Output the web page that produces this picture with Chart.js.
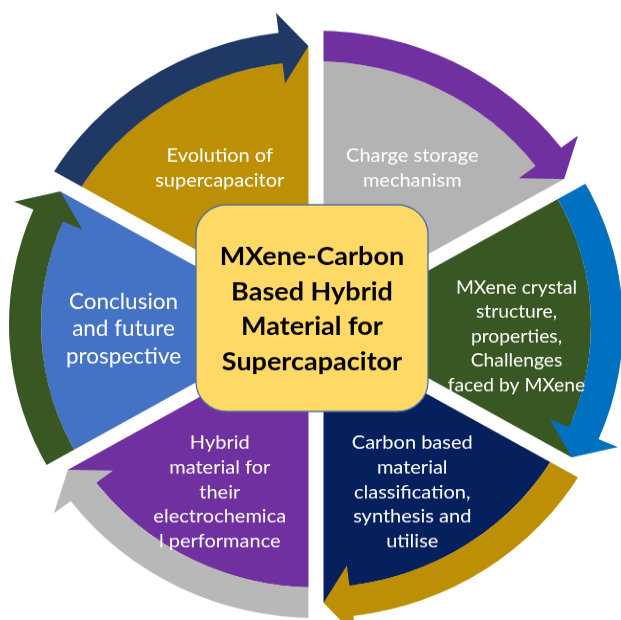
<!DOCTYPE html>
<html><head><meta charset="utf-8">
<script src="https://cdn.jsdelivr.net/npm/chart.js@4/dist/chart.umd.min.js"></script>
<style>
html,body{margin:0;padding:0;background:#fff;overflow:hidden;width:621px;height:620px}
#wrap{width:621px;height:648px;transform:scale(1,0.9568);transform-origin:0 0}
canvas{display:block}
</style></head><body>
<div id="wrap"><canvas id="c" width="621" height="648"></canvas></div>
<script>
// ---- data ----
const topics = ["Charge storage mechanism","MXene crystal structure, properties, Challenges faced by MXene","Carbon based material classification, synthesis and utilise","Hybrid material for their electrochemical performance","Conclusion and future prospective","Evolution of supercapacitor"];
const topicLines = [
  ["Charge storage","mechanism"],
  ["MXene crystal","structure,","properties,","Challenges","faced by MXene"],
  ["Carbon based","material","classification,","synthesis and","utilise"],
  ["Hybrid","material for","their","electrochemica","l performance"],
  ["Conclusion","and future","prospective"],
  ["Evolution of","supercapacitor"]
];
const shares = [1,1,1,1,1,1];
const sliceColors = ["#B3B3B3","#385723","#06205E","#7030A0","#4472C4","#BC8F05"];
const arrowColors = ["#7030A0","#0070C0","#BC8F05","#B8B8B8","#385723","#1F3864"];
const centerTitle = ["MXene-Carbon","Based Hybrid","Material for","Supercapacitor"];

// ---- style constants ----
const GAP = 15, HEAD_LEN = 28, BARB = 21;
const labelSize = [20,19.3,20,20,22.5,20];
const labelLead = [25.6,25.6,25.6,25.6,28.2,25.6];
const labelShift = [[0,3],[8,12],[0,8],[0,8],[0,5],[0,3]];

const arrowPlugin = {
  id: 'cycleArrows',
  beforeDatasetDraw(chart, args) {
    if (args.index !== 0) return;
    const ctx = chart.ctx;
    const pie = chart.getDatasetMeta(1).data;
    ctx.save();
    args.meta.data.forEach((el, i) => {
      const {x, y, startAngle, endAngle, innerRadius, outerRadius} = el;
      const mid = (innerRadius + outerRadius) / 2;
      const half = (outerRadius - innerRadius) / 2;
      const tip = endAngle - Math.asin((GAP / 2) / mid);
      const base = tip - HEAD_LEN / mid;
      ctx.beginPath();
      ctx.arc(x, y, mid, base - 0.03, endAngle);
      ctx.arc(x, y, innerRadius - 1, endAngle, base - 0.03, true);
      ctx.closePath();
      ctx.fillStyle = pie[i].options.backgroundColor;
      ctx.fill();
      const ro = mid + half + BARB, ri = mid - half - BARB;
      ctx.beginPath();
      ctx.arc(x, y, outerRadius, startAngle, base);
      ctx.lineTo(x + Math.cos(base) * ro, y + Math.sin(base) * ro);
      ctx.lineTo(x + Math.cos(tip) * mid, y + Math.sin(tip) * mid);
      ctx.lineTo(x + Math.cos(base) * ri, y + Math.sin(base) * ri);
      ctx.arc(x, y, innerRadius, base, startAngle, true);
      ctx.closePath();
      ctx.fillStyle = el.options.backgroundColor;
      ctx.fill();
    });
    ctx.restore();
    return false;
  },
  afterDatasetsDraw(chart) {
    const ctx = chart.ctx;
    const pie = chart.getDatasetMeta(1).data;
    const cx = pie[0].x, cy = pie[0].y, R = pie[0].outerRadius;
    const sy = 1 / 0.9568;
    ctx.save();
    ctx.strokeStyle = '#fff';
    ctx.lineWidth = GAP;
    pie.forEach(el => {
      const a = el.startAngle;
      ctx.beginPath();
      ctx.moveTo(cx, cy);
      ctx.lineTo(cx + Math.cos(a) * (R + 80), cy + Math.sin(a) * (R + 80));
      ctx.stroke();
    });
    ctx.fillStyle = '#fff';
    ctx.textAlign = 'center';
    ctx.textBaseline = 'middle';
    pie.forEach((el, i) => {
      const a = (el.startAngle + el.endAngle) / 2;
      const r = el.outerRadius * 0.70;
      const lx = cx + Math.cos(a) * r + labelShift[i][0];
      const ly = cy + Math.sin(a) * r + labelShift[i][1] * sy;
      const lines = topicLines[i];
      ctx.font = `${labelSize[i]}px Lato`;
      const h = (lines.length - 1) * labelLead[i];
      lines.forEach((t, k) => ctx.fillText(t, lx, ly - h / 2 + k * labelLead[i]));
    });
    const bx = cx - 120, by = cy - 125, bw = 232, bh = 216, rr = 31;
    ctx.beginPath();
    ctx.roundRect(bx, by, bw, bh, rr);
    ctx.fillStyle = '#FFD966';
    ctx.fill();
    ctx.lineWidth = 1.3;
    ctx.strokeStyle = '#4A6FA0';
    ctx.stroke();
    ctx.fillStyle = '#000';
    ctx.font = 'bold 27px Lato';
    ctx.textBaseline = 'alphabetic';
    const tx = cx - 4;
    const baseY = cy - 62, lead = 36.6;
    centerTitle.forEach((t, k) => ctx.fillText(t, tx, baseY + k * lead));
    ctx.restore();
  }
};

new Chart(document.getElementById('c'), {
  type: 'doughnut',
  data: {
    labels: topics,
    datasets: [
      { data: shares, backgroundColor: arrowColors, borderWidth: 0, weight: 1 },
      { data: shares, backgroundColor: sliceColors, borderWidth: 0, weight: 8.59 }
    ]
  },
  options: {
    responsive: false,
    animation: false,
    events: [],
    cutout: 0,
    radius: 307,
    layout: { padding: { left: 11, top: 30, right: 0, bottom: 0 } },
    plugins: { legend: { display: false }, tooltip: { enabled: false } }
  },
  plugins: [arrowPlugin]
});
</script>
</body></html>
